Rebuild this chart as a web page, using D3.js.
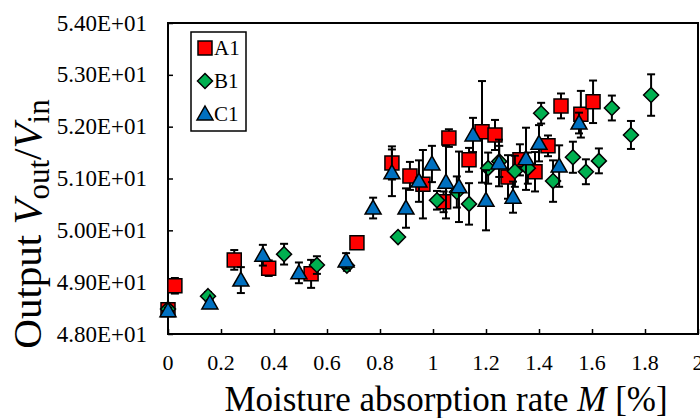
<!DOCTYPE html>
<html>
<head>
<meta charset="utf-8">
<script src="https://cdn.jsdelivr.net/npm/d3@7"></script>
<style>
  body { margin: 0; background: #fff; }
  svg text { font-family: "Liberation Serif", "Times New Roman", serif; fill: #000; }
</style>
</head>
<body>
<div id="chart"></div>
<script>
// ---- data ----
var seriesNames = ["A1", "B1", "C1"];

var a1M = [0, 0.026, 0.25, 0.38, 0.54, 0.713, 0.845, 0.913, 0.962, 1.04, 1.06, 1.136, 1.185, 1.234, 1.283, 1.328, 1.385, 1.434, 1.483, 1.558, 1.604];
var a1V = [48.47, 48.93, 49.43, 49.27, 49.16, 49.76, 51.30, 51.05, 50.89, 50.55, 51.78, 51.36, 51.90, 51.84, 51.03, 51.36, 51.13, 51.63, 52.40, 52.24, 52.48];
var a1Err = [0.05, 0.15, 0.19, 0.15, 0.27, 0.03, 0.32, 0.27, 0.66, 0.2, 0.17, 0.23, 0.98, 0.29, 0.42, 0.3, 0.38, 0.2, 0.24, 0.45, 0.41];

var b1M = [0, 0.151, 0.438, 0.562, 0.675, 0.868, 1.015, 1.09, 1.136, 1.208, 1.25, 1.309, 1.358, 1.408, 1.453, 1.528, 1.577, 1.626, 1.675, 1.747, 1.823];
var b1V = [48.48, 48.73, 49.54, 49.33, 49.32, 49.87, 50.58, 50.74, 50.51, 51.20, 51.33, 51.14, 51.20, 52.26, 50.95, 51.41, 51.13, 51.34, 52.36, 51.84, 52.61];
var b1Err = [0.05, 0.08, 0.2, 0.17, 0.1, 0.03, 0.18, 0.3, 0.4, 0.3, 0.3, 0.3, 0.3, 0.2, 0.4, 0.3, 0.24, 0.24, 0.24, 0.27, 0.4];

var c1M = [0, 0.158, 0.275, 0.358, 0.494, 0.672, 0.774, 0.845, 0.898, 0.947, 0.996, 1.049, 1.098, 1.151, 1.2, 1.249, 1.302, 1.351, 1.4, 1.476, 1.551];
var c1V = [48.45, 48.60, 49.04, 49.52, 49.18, 49.41, 50.43, 51.11, 50.43, 50.95, 51.28, 50.93, 50.84, 51.84, 50.58, 51.30, 50.64, 51.38, 51.68, 51.24, 52.07];
var c1Err = [0.05, 0.05, 0.25, 0.2, 0.2, 0.15, 0.2, 0.45, 0.38, 0.4, 0.35, 0.7, 0.68, 0.33, 0.58, 0.45, 0.3, 0.6, 0.35, 0.4, 0.2];

var xTicks = [0, 0.2, 0.4, 0.6, 0.8, 1, 1.2, 1.4, 1.6, 1.8, 2];
var yTicks = [48, 49, 50, 51, 52, 53, 54];
var xTickLabels = ["0", "0.2", "0.4", "0.6", "0.8", "1", "1.2", "1.4", "1.6", "1.8", "2"];
var yTickLabels = ["4.80E+01", "4.90E+01", "5.00E+01", "5.10E+01", "5.20E+01", "5.30E+01", "5.40E+01"];

// ---- layout ----
var svgWidth = 700;
var svgHeight = 418;
var margin = { top: 23, right: 2, bottom: 84, left: 168 };
var width = svgWidth - margin.left - margin.right;
var height = svgHeight - margin.top - margin.bottom;

var svg = d3.select("#chart")
  .append("svg")
  .attr("width", svgWidth)
  .attr("height", svgHeight);

var chartGroup = svg.append("g")
  .attr("transform", `translate(${margin.left}, ${margin.top})`);

var xScale = d3.scaleLinear().domain([0, 2]).range([0, width]);
var yScale = d3.scaleLinear().domain([48, 54]).range([height, 0]);

// axes: inward ticks only, labels drawn below
var xAxis = d3.axisBottom(xScale)
  .tickValues(xTicks)
  .tickSizeInner(-5)
  .tickSizeOuter(0)
  .tickFormat("");

var yAxis = d3.axisLeft(yScale)
  .tickValues(yTicks)
  .tickSizeInner(-5)
  .tickSizeOuter(0)
  .tickFormat("");

var xAxisG = chartGroup.append("g")
  .attr("transform", `translate(0, ${height})`)
  .call(xAxis);

var yAxisG = chartGroup.append("g")
  .call(yAxis);

[xAxisG, yAxisG].forEach(function(g) {
  g.select(".domain").remove();
  g.selectAll(".tick text").remove();
  g.selectAll(".tick line").attr("stroke", "#000").attr("stroke-width", 1.5);
});

// tick labels
chartGroup.append("g").selectAll("text")
  .data(xTicks)
  .enter()
  .append("text")
  .attr("x", d => xScale(d))
  .attr("y", height + 36)
  .attr("text-anchor", "middle")
  .attr("font-size", 22)
  .text((d, i) => xTickLabels[i]);

chartGroup.append("g").selectAll("text")
  .data(yTicks)
  .enter()
  .append("text")
  .attr("x", -21)
  .attr("y", d => yScale(d))
  .attr("dy", "0.33em")
  .attr("text-anchor", "end")
  .attr("font-size", 23)
  .text((d, i) => yTickLabels[i]);

// plot frame
chartGroup.append("rect")
  .attr("x", 0)
  .attr("y", 0)
  .attr("width", width)
  .attr("height", height)
  .attr("fill", "none")
  .attr("stroke", "#000")
  .attr("stroke-width", 2);

// marker shapes
function markerPath(kind) {
  if (kind === "A1") return "M-7,-7H7V7H-7Z";
  if (kind === "B1") return "M0,-7.5L7.5,0L0,7.5L-7.5,0Z";
  return "M0,-8L8,6H-8Z";
}
var colors = { A1: "#FF0000", B1: "#00B050", C1: "#0070C0" };

var seriesData = [
  { name: "A1", m: a1M, v: a1V, e: a1Err },
  { name: "B1", m: b1M, v: b1V, e: b1Err },
  { name: "C1", m: c1M, v: c1V, e: c1Err }
];

seriesData.forEach(function(s) {
  var pts = s.m.map((m, i) => ({ m: m, v: s.v[i], e: s.e[i] }));
  var g = chartGroup.append("g");

  // error bars
  var eb = g.selectAll("g.err")
    .data(pts)
    .enter()
    .append("g")
    .attr("stroke", "#000")
    .attr("stroke-width", 2);
  eb.append("line")
    .attr("x1", d => xScale(d.m)).attr("x2", d => xScale(d.m))
    .attr("y1", d => yScale(d.v + d.e)).attr("y2", d => yScale(d.v - d.e));
  eb.append("line")
    .attr("x1", d => xScale(d.m) - 4).attr("x2", d => xScale(d.m) + 4)
    .attr("y1", d => yScale(d.v + d.e)).attr("y2", d => yScale(d.v + d.e));
  eb.append("line")
    .attr("x1", d => xScale(d.m) - 4).attr("x2", d => xScale(d.m) + 4)
    .attr("y1", d => yScale(d.v - d.e)).attr("y2", d => yScale(d.v - d.e));

  // markers
  g.selectAll("path.mk")
    .data(pts)
    .enter()
    .append("path")
    .attr("d", markerPath(s.name))
    .attr("transform", d => `translate(${xScale(d.m)}, ${yScale(d.v)})`)
    .attr("fill", colors[s.name])
    .attr("stroke", "#000")
    .attr("stroke-width", 1.5);
});

// legend
var legend = svg.append("g").attr("transform", "translate(191, 32)");
legend.append("rect")
  .attr("width", 55)
  .attr("height", 99)
  .attr("fill", "#fff")
  .attr("stroke", "#000")
  .attr("stroke-width", 1.5);

seriesNames.forEach(function(name, i) {
  var row = legend.append("g").attr("transform", `translate(14, ${16 + i * 33})`);
  row.append("path")
    .attr("d", markerPath(name))
    .attr("fill", colors[name])
    .attr("stroke", "#000")
    .attr("stroke-width", 1.5);
  row.append("text")
    .attr("x", 9)
    .attr("y", 7)
    .attr("font-size", 21)
    .text(name);
});

// axis titles
svg.append("text")
  .attr("x", 446)
  .attr("y", 411)
  .attr("text-anchor", "middle")
  .attr("font-size", 35)
  .html('Moisture absorption rate <tspan font-style="italic">M</tspan> [%]');

var yTitle = svg.append("text")
  .attr("transform", "translate(41, 224) rotate(-90)")
  .attr("text-anchor", "middle")
  .attr("font-size", 41);
yTitle.append("tspan").text("Output ");
yTitle.append("tspan").attr("font-style", "italic").text("V");
yTitle.append("tspan").attr("dy", 8).attr("font-size", 31).text("out");
yTitle.append("tspan").attr("dy", -8).text("/");
yTitle.append("tspan").attr("font-style", "italic").text("V");
yTitle.append("tspan").attr("dy", 8).attr("font-size", 31).text("in");
</script>
</body>
</html>
